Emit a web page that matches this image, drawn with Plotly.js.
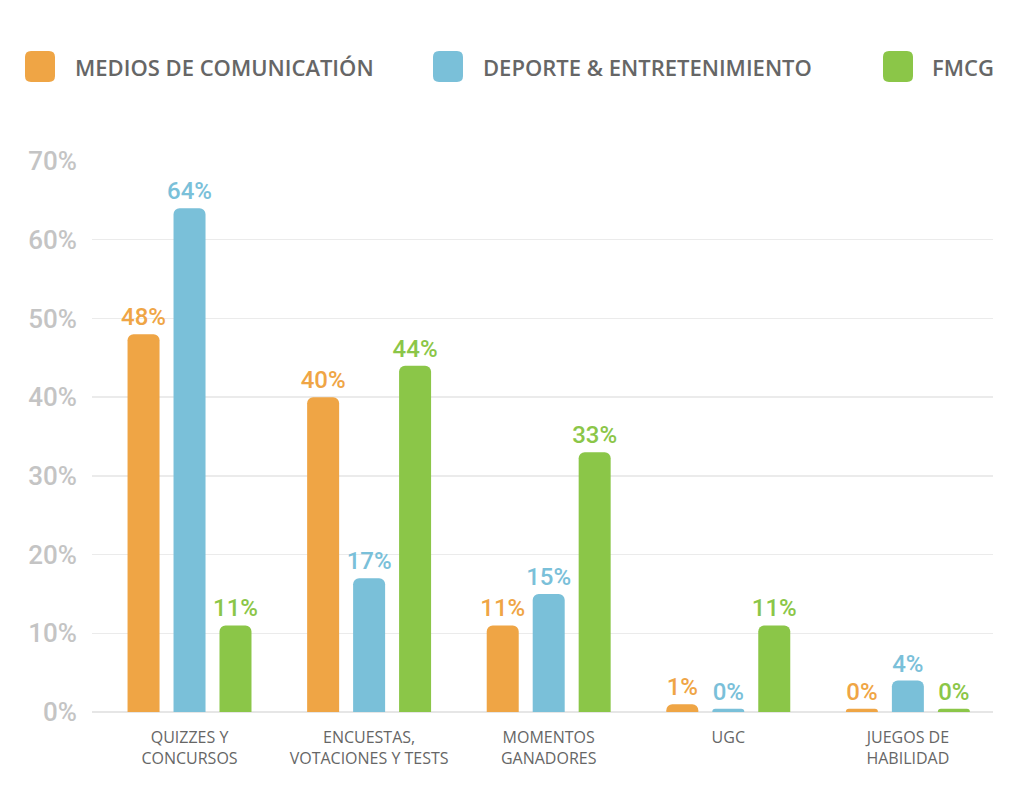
<!DOCTYPE html>
<html>
<head>
<meta charset="utf-8">
<script src="https://cdn.plot.ly/plotly-3.0.1.min.js"></script>
<style>
html,body{margin:0;padding:0;background:#fff;}
#chart{width:1024px;height:790px;}
</style>
</head>
<body>
<div id="chart"></div>
<script>
// ---- data ----
const categories = ["QUIZZES Y<br>CONCURSOS", "ENCUESTAS,<br>VOTACIONES Y TESTS", "MOMENTOS<br>GANADORES", "UGC", "JUEGOS DE<br>HABILIDAD"];
const seriesNames = ["MEDIOS DE COMUNICATIÓN", "DEPORTE & ENTRETENIMIENTO", "FMCG"];
const medios = [48, 40, 11, 1, 0.4];
const deporte = [64, 17, 15, 0.4, 4];
const fmcg = [11, 44, 33, 11, 0.4];
const yTickVals = [0, 10, 20, 30, 40, 50, 60, 70];
const yTickText = ["0%", "10%", "20%", "30%", "40%", "50%", "60%", "70%"];
const colors = ["#EFA545", "#7AC0D9", "#8BC648"];

// ---- layout geometry (pixels) ----
const W = 1024, H = 790;
const M = {l: 92, r: 31, t: 161, b: 78};
const pw = W - M.l - M.r, ph = H - M.t - M.b;
const px = x => (x - M.l) / pw;
const py = y => (H - M.b - y) / ph;

const condensed = "Roboto, 'Liberation Sans', sans-serif";
const sans = "'Open Sans', 'Noto Sans', sans-serif";

const seriesValues = [medios, deporte, fmcg];
const traces = seriesValues.map((vals, i) => ({
  type: 'bar',
  name: seriesNames[i],
  x: categories,
  y: vals,
  marker: {color: colors[i], line: {width: 0}},
  texttemplate: '%{y:.0f}%',
  textposition: 'outside',
  constraintext: 'none',
  textfont: {family: condensed, size: 24, color: colors[i], weight: 500},
  cliponaxis: false,
  hoverinfo: 'skip'
}));

function roundRect(x0, y0, x1, y1, r) {
  const p = (x, y) => px(x).toFixed(5) + ',' + py(y).toFixed(5);
  return 'M' + p(x0 + r, y0) +
    ' L' + p(x1 - r, y0) + ' Q' + p(x1, y0) + ' ' + p(x1, y0 + r) +
    ' L' + p(x1, y1 - r) + ' Q' + p(x1, y1) + ' ' + p(x1 - r, y1) +
    ' L' + p(x0 + r, y1) + ' Q' + p(x0, y1) + ' ' + p(x0, y1 - r) +
    ' L' + p(x0, y0 + r) + ' Q' + p(x0, y0) + ' ' + p(x0 + r, y0) + ' Z';
}

const legendSwatchX = [25, 433, 883];
const legendTextX = [73, 481, 930];
const shapes = [], annotations = [];
seriesNames.forEach((n, i) => {
  shapes.push({
    type: 'path', xref: 'paper', yref: 'paper',
    path: roundRect(legendSwatchX[i], 51, legendSwatchX[i] + 30, 82, 6),
    fillcolor: colors[i], line: {width: 0}
  });
  annotations.push({
    xref: 'paper', yref: 'paper', x: px(legendTextX[i]), y: py(67),
    xanchor: 'left', yanchor: 'middle', showarrow: false, text: n,
    font: {family: sans, size: 22, color: '#666666', weight: 600}
  });
});

const layout = {
  width: W, height: H,
  margin: M,
  paper_bgcolor: '#ffffff', plot_bgcolor: '#ffffff',
  showlegend: false,
  barmode: 'group',
  bargap: 0.232,
  bargroupgap: 0.304,
  barcornerradius: 6,
  xaxis: {
    type: 'category',
    range: [-0.543, 4.474],
    showgrid: false, zeroline: false, showline: false, ticks: '',
    ticklabelstandoff: 14,
    tickfont: {family: sans, size: 16, color: '#666666'}
  },
  yaxis: {
    range: [0, 70],
    tickvals: yTickVals, ticktext: yTickText,
    showgrid: true, gridcolor: '#ebebeb', gridwidth: 1.5,
    zeroline: true, zerolinecolor: '#e6e6e6', zerolinewidth: 2,
    showline: false, ticks: '',
    ticklabelstandoff: 14,
    tickfont: {family: condensed, size: 26, color: '#c4c4c4', weight: 500}
  },
  shapes: shapes,
  annotations: annotations
};

Plotly.newPlot('chart', traces, layout, {displayModeBar: false, staticPlot: true});
</script>
</body>
</html>
